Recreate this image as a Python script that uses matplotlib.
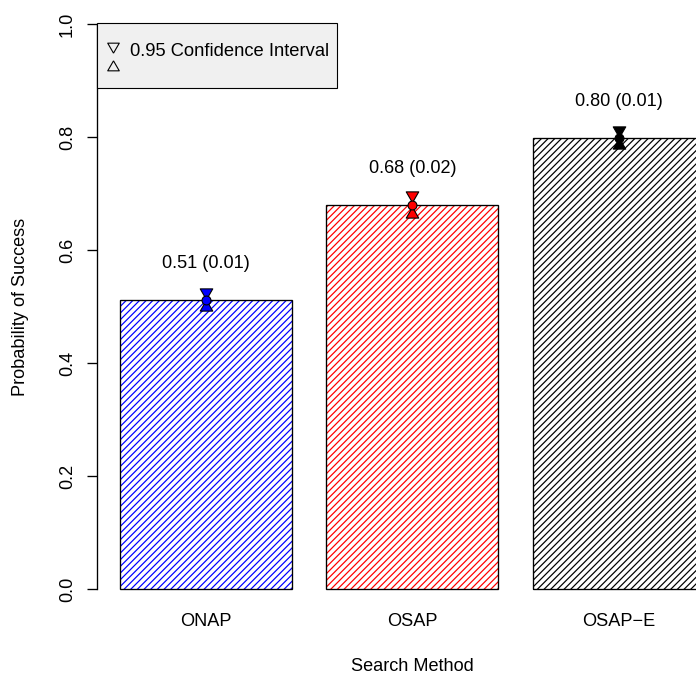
import numpy as np
import matplotlib.pyplot as plt
from matplotlib.patches import Rectangle

# Bar data
methods = ["ONAP", "OSAP", "OSAP\u2212E"]
success = [0.512, 0.680, 0.799]
ci_half = [0.013, 0.017, 0.014]
value_labels = ["0.51 (0.01)", "0.68 (0.02)", "0.80 (0.01)"]
bar_colors = ["#0000FF", "#FF0000", "#000000"]
y_ticks = [0.0, 0.2, 0.4, 0.6, 0.8, 1.0]

DPI = 80
FS = 16.3
plt.rcParams['font.family'] = ['Liberation Sans', 'DejaVu Sans']
plt.rcParams['hatch.linewidth'] = 1.1

W, H = 696, 675
fig = plt.figure(figsize=(W / DPI, H / DPI), dpi=DPI)
ax = fig.add_axes([0.1388, 0.0939, 0.9075, 0.904])

# barplot positions like R (width 1, space 0.2)
x = 0.7 + 1.2 * np.arange(len(methods))
ax.bar(x, success, width=1.0, color='white', edgecolor=bar_colors,
       hatch='////', linewidth=0)
ax.bar(x, success, width=1.0, fill=False, edgecolor='black', linewidth=1.2)

# R style triangles (point at centroid), closed paths
tri_up = [(0, 1.555), (1.347, -0.778), (-1.347, -0.778), (0, 1.555)]
tri_down = [(0, -1.555), (1.347, 0.778), (-1.347, 0.778), (0, -1.555)]

for xi, m, h, c, lab in zip(x, success, ci_half, bar_colors, value_labels):
    ax.plot(xi, m + h, marker=tri_down, ms=13, mfc=c, mec='black', mew=1.0, ls='none')
    ax.plot(xi, m - h, marker=tri_up, ms=13, mfc=c, mec='black', mew=1.0, ls='none')
    ax.plot(xi, m, marker='o', ms=8, mfc=c, mec='black', mew=1.0, ls='none')
    ax.text(xi, m + 0.064, lab, ha='center', va='center', fontsize=FS)

ax.set_xlim(0.064, 3.736)
ax.set_ylim(-0.04, 1.04)
for s in ['top', 'right', 'bottom']:
    ax.spines[s].set_visible(False)
ax.spines['left'].set_bounds(0, 1)
ax.spines['left'].set_linewidth(1.2)

ax.set_yticks(y_ticks)
ax.set_yticklabels([f"{t:.1f}" for t in y_ticks], rotation=90, va='center')
ax.tick_params(axis='y', length=9, width=1.2, pad=9.5, labelsize=FS)
ax.set_xticks(x)
ax.set_xticklabels(methods)
ax.tick_params(axis='x', length=0, pad=1.5, labelsize=FS)

ax.set_xlabel("Search Method", fontsize=FS)
ax.xaxis.set_label_coords(0.5, -0.0898)
ax.xaxis.label.set_va('center')
ax.set_ylabel("Probability of Success", fontsize=FS)
ax.yaxis.set_label_coords(-0.121, 0.5)
ax.yaxis.label.set_va('center')


# legend box, placed in image pixel coordinates
def fx(px):
    return px / W


def fy(py):
    return 1 - py / H


box = Rectangle((fx(96.6), fy(88)), fx(337) - fx(96.6), fy(22.5) - fy(88),
                transform=fig.transFigure, facecolor='#f0f0f0',
                edgecolor='black', linewidth=1.0, zorder=5)
fig.patches.append(box)
fig.lines.append(plt.Line2D([fx(112.5)], [fy(45.5)], marker=tri_down, ms=12,
                            mfc='none', mec='black', mew=1.0, ls='none',
                            transform=fig.transFigure, zorder=6))
fig.lines.append(plt.Line2D([fx(112.5)], [fy(66.5)], marker=tri_up, ms=12,
                            mfc='none', mec='black', mew=1.0, ls='none',
                            transform=fig.transFigure, zorder=6))
fig.text(fx(130), fy(51), "0.95 Confidence Interval", fontsize=16.5,
         ha='left', va='center', zorder=7)

fig.savefig("out.png", dpi=DPI)
